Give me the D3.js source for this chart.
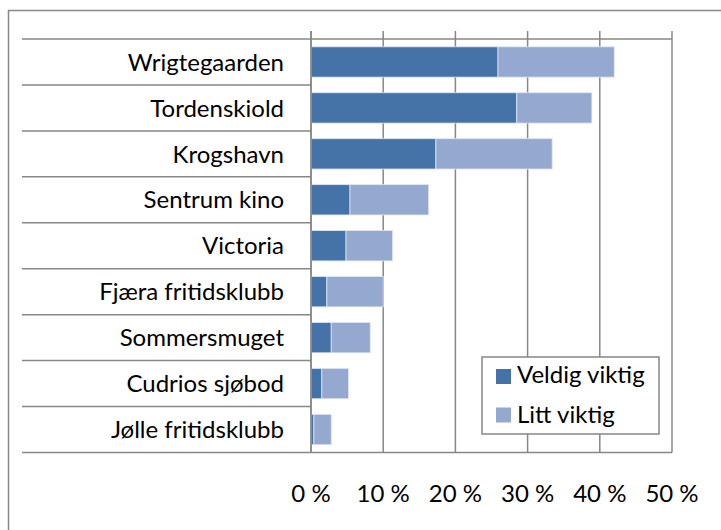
<!DOCTYPE html>
<html>
<head>
<meta charset="utf-8">
<script src="https://cdn.jsdelivr.net/npm/d3@7"></script>
<style>
  body { margin: 0; background: #fff; }
  svg { display: block; font-family: Lato, "Open Sans", sans-serif; }
</style>
</head>
<body>
<div id="chart"></div>
<script>
// data (percent)
const categories = ["Wrigtegaarden", "Tordenskiold", "Krogshavn", "Sentrum kino", "Victoria",
  "Fjæra fritidsklubb", "Sommersmuget", "Cudrios sjøbod", "Jølle fritidsklubb"];
const veldig = [25.9, 28.5, 17.3, 5.4, 4.85, 2.2, 2.8, 1.5, 0.4];
const litt = [16.1, 10.4, 16.1, 10.9, 6.45, 7.8, 5.4, 3.7, 2.4];
const seriesNames = ["Veldig viktig", "Litt viktig"];
const colors = ["#4573a7", "#95a9d0"];
const ticks = [0, 10, 20, 30, 40, 50];

const W = 721, H = 530;
const plotL = 311, plotR = 672, plotT = 39, plotB = 452.5;
const gridCol = "#878787";
const fs = 24;

const svg = d3.select("#chart").append("svg")
  .attr("width", W).attr("height", H);

// outer border (runs off the right and bottom edge)
svg.append("rect")
  .attr("x", 8.5).attr("y", 10.5).attr("width", 730).attr("height", 540)
  .attr("fill", "none").attr("stroke", gridCol).attr("stroke-width", 1.5);

const x = d3.scaleLinear().domain([0, 50]).range([plotL, plotR]);
const y = d3.scaleBand().domain(categories).range([plotT, plotB]).paddingInner(0.34).paddingOuter(0.17);

// vertical gridlines, sticking up above the plot a bit
svg.append("g").selectAll("line").data(ticks).join("line")
  .attr("x1", d => x(d)).attr("x2", d => x(d))
  .attr("y1", plotT - 8).attr("y2", plotB)
  .attr("stroke", gridCol).attr("stroke-width", 1.5);

// category separator lines
const bounds = d3.range(categories.length + 1).map(i => plotT + i * (plotB - plotT) / categories.length);
svg.append("g").selectAll("line").data(bounds).join("line")
  .attr("x1", 22).attr("x2", (d, i) => (i === 0 || i === categories.length) ? plotR : plotL)
  .attr("y1", d => d).attr("y2", d => d)
  .attr("stroke", gridCol).attr("stroke-width", 1.5);

// stacked bars
const rows = categories.map((c, i) => ({ cat: c, v: [veldig[i], litt[i]] }));
const stack = d3.stack().keys([0, 1]).value((d, k) => d.v[k]);
const layers = stack(rows);

svg.append("g").selectAll("g").data(layers).join("g")
  .attr("fill", (d, i) => colors[i])
  .selectAll("rect").data(d => d).join("rect")
  .attr("x", d => x(d[0]))
  .attr("width", d => x(d[1]) - x(d[0]))
  .attr("y", d => y(d.data.cat))
  .attr("height", y.bandwidth())
  .attr("stroke", "#dfe6f2").attr("stroke-width", 0.8);

// redraw the left axis line over the bars
svg.append("line")
  .attr("x1", plotL).attr("x2", plotL).attr("y1", plotT - 8).attr("y2", plotB)
  .attr("stroke", gridCol).attr("stroke-width", 1.5);

// category labels
svg.append("g").selectAll("text").data(categories).join("text")
  .attr("x", 284).attr("y", d => y(d) + y.bandwidth() / 2)
  .attr("dy", "0.36em")
  .attr("text-anchor", "end")
  .attr("font-size", fs).attr("fill", "#000")
  .text(d => d);

// tick labels
svg.append("g").selectAll("text").data(ticks).join("text")
  .attr("x", d => x(d)).attr("y", 502)
  .attr("text-anchor", "middle")
  .attr("font-size", fs).attr("fill", "#000")
  .text(d => d + " %");

// legend
const lg = svg.append("g");
lg.append("rect")
  .attr("x", 482).attr("y", 357).attr("width", 177).attr("height", 77)
  .attr("fill", "#fff").attr("stroke", gridCol).attr("stroke-width", 1.5);
seriesNames.forEach((s, i) => {
  lg.append("rect")
    .attr("x", 496).attr("y", 369 + i * 38.5).attr("width", 15).attr("height", 15)
    .attr("fill", colors[i]);
  lg.append("text")
    .attr("x", 517).attr("y", 383 + i * 39.5)
    .attr("font-size", fs).attr("fill", "#000")
    .text(s);
});
</script>
</body>
</html>
